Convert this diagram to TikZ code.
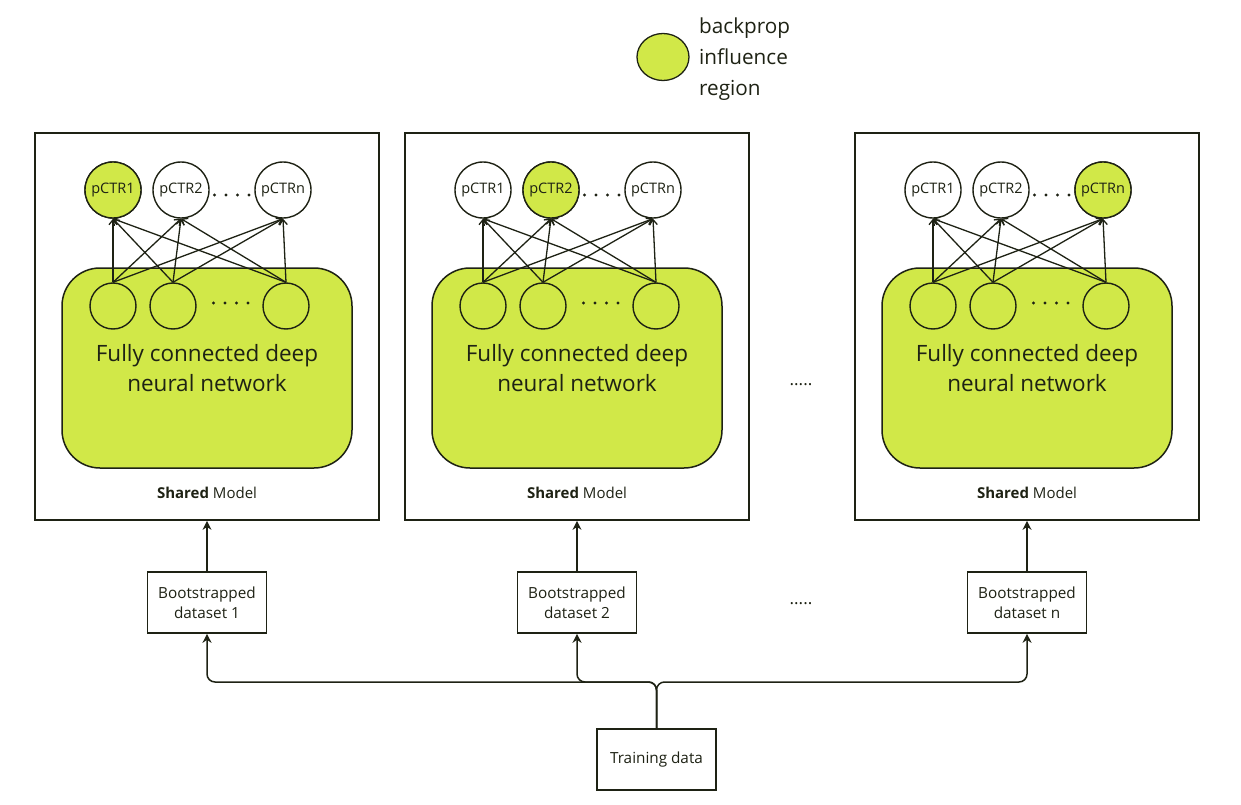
\documentclass[tikz,border=0pt]{standalone}
\usepackage{fontspec}
\setmainfont{Open Sans}
\usetikzlibrary{arrows.meta,shapes.geometric}
\definecolor{lime}{RGB}{209,232,72}
\definecolor{ink}{RGB}{30,34,20}
\begin{document}
\begin{tikzpicture}[x=1pt,y=-1pt,
  panel/.style={draw=ink, line width=1.7pt, fill=white, minimum width=344pt, minimum height=387pt, inner sep=0pt},
  greenbox/.style={draw=ink, line width=1.5pt, fill=lime, rounded corners=38pt, minimum width=290pt, minimum height=200pt, align=center, text=ink, font=\fontsize{22.5}{30}\selectfont},
  outc/.style={circle, draw=ink, line width=1.4pt, fill=white, minimum size=56pt, inner sep=0pt, text=ink, font=\fontsize{14.5}{15}\selectfont},
  hot/.style={fill=lime},
  hidc/.style={circle, draw=ink, line width=1.4pt, fill=lime, minimum size=46pt, inner sep=0pt},
  conn/.style={draw=ink, line width=1.3pt, -{Straight Barb[length=5pt,width=8pt]}},
  flow/.style={draw=ink, line width=1.5pt, -{Stealth[length=9pt,width=9pt]}},
  databox/.style={draw=ink, line width=1.6pt, fill=white, minimum width=119pt, minimum height=61pt, inner sep=0pt, align=center, text=ink, font=\fontsize{15.3}{20}\selectfont},
  dots/.style={text=ink, font=\fontsize{17}{17}\selectfont, inner sep=0pt},
  label/.style={text=ink, inner sep=0pt}
]
\useasboundingbox (0,0) rectangle (1241,805);

% legend
\node[draw=ink, line width=1.3pt, fill=lime, ellipse, minimum width=52pt, minimum height=47pt, inner sep=0pt] (leg) at (663,57) {};
\node[label, anchor=west, align=left, font=\fontsize{20.7}{31}\selectfont] (legt) at (699,59) {backprop\\influence\\region};

\foreach \i/\ox/\nm in {1/0/1, 2/370/2, 3/820/n} {
  \node[panel] (p\i) at (\ox+207,326.5) {};
  \node[greenbox] (g\i) at (\ox+207,368) {Fully connected deep\\neural network};
  \node[label, font=\fontsize{15}{16}\selectfont] (s\i) at (\ox+207,493) {\textbf{Shared} Model};
  \node[outc] (t\i1) at (\ox+113,190) {pCTR1};
  \node[outc] (t\i2) at (\ox+181,190) {pCTR2};
  \node[outc] (t\i3) at (\ox+283,190) {pCTRn};
  \node[hidc] (b\i1) at (\ox+113,306) {};
  \node[hidc] (b\i2) at (\ox+173,306) {};
  \node[hidc] (b\i3) at (\ox+286,306) {};
  \foreach \d in {0,1,2,3} {
    \fill[ink] (\ox+214.5+\d*11.5,195) circle (1.6pt);
    \fill[ink] (\ox+213.5+\d*11.5,303) circle (1.6pt);
  }
  \foreach \j in {1,2,3} {
    \foreach \k in {1,2,3} {
      \draw[conn] (b\i\j.north) -- (t\i\k.south);
    }
  }
  \node[databox] (d\i) at (\ox+207,602.5) {Bootstrapped\\dataset \nm};
  \draw[flow] (d\i.north) -- (p\i.south);
}
% highlighted outputs
\node[outc, hot] at (t11) {pCTR1};
\node[outc, hot] at (t22) {pCTR2};
\node[outc, hot] at (t33) {pCTRn};

\node[dots] (md1) at (801,385) {.....};
\node[dots] (md2) at (801,604) {.....};

\node[databox] (train) at (656.5,759.5) {Training data};
\coordinate (j) at (656.5,682);
\draw[flow, rounded corners=8pt] (train.north) -- (j) -| (d1.south);
\draw[flow, rounded corners=8pt] (train.north) -- (j) -| (d2.south);
\draw[flow, rounded corners=8pt] (train.north) -- (j) -| (d3.south);
\end{tikzpicture}
\end{document}
